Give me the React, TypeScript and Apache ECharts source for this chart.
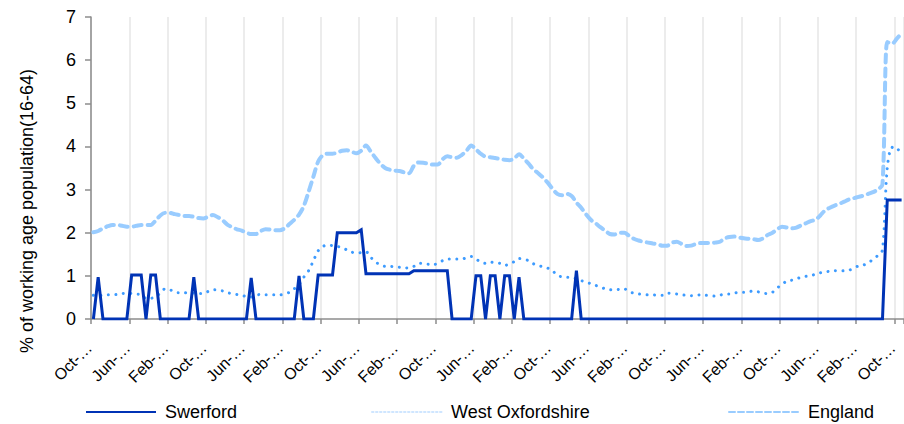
import React, { useEffect, useRef } from 'react';
import * as echarts from 'echarts';

const FONT = '"Liberation Sans", Arial, sans-serif';

// Month names used for the (truncated) category labels; series starts in October
const MONTHS = ['Jan', 'Feb', 'Mar', 'Apr', 'May', 'Jun', 'Jul', 'Aug', 'Sep', 'Oct', 'Nov', 'Dec'];
const START_MONTH_INDEX = 9;
const N_MONTHS = 170;
const categories = Array.from({ length: N_MONTHS }, (_, i) => MONTHS[(START_MONTH_INDEX + i) % 12] + '-…');

const seriesNames = ['Swerford', 'West Oxfordshire', 'England'];

const swerford = [
  0, 0.97, 0, 0, 0, 0, 0, 0, 1.02, 1.02,
  1.02, 0, 1.02, 1.02, 0, 0, 0, 0, 0, 0,
  0, 0.97, 0, 0, 0, 0, 0, 0, 0, 0,
  0, 0, 0, 0.95, 0, 0, 0, 0, 0, 0,
  0, 0, 0, 1.0, 0, 0, 0, 1.02, 1.02, 1.02,
  1.02, 2.0, 2.0, 2.0, 2.0, 2.0, 2.07, 1.05, 1.05, 1.05,
  1.05, 1.05, 1.05, 1.05, 1.05, 1.05, 1.05, 1.12, 1.12, 1.12,
  1.12, 1.12, 1.12, 1.12, 1.12, 0, 0, 0, 0, 0,
  1.0, 1.0, 0, 1.0, 1.0, 0, 1.0, 1.0, 0, 0.97,
  0, 0, 0, 0, 0, 0, 0, 0, 0, 0,
  0, 1.12, 0, 0, 0, 0, 0, 0, 0, 0,
  0, 0, 0, 0, 0, 0, 0, 0, 0, 0,
  0, 0, 0, 0, 0, 0, 0, 0, 0, 0,
  0, 0, 0, 0, 0, 0, 0, 0, 0, 0,
  0, 0, 0, 0, 0, 0, 0, 0, 0, 0,
  0, 0, 0, 0, 0, 0, 0, 0, 0, 0,
  0, 0, 0, 0, 0, 0, 2.76, 2.76, 2.76, 2.76,
];

const westOxfordshire = [
  0.55, 0.54, 0.55, 0.56, 0.56, 0.57, 0.59, 0.6, 0.59, 0.58,
  0.56, 0.48, 0.48, 0.52, 0.6, 0.7, 0.68, 0.62, 0.61, 0.61,
  0.6, 0.6, 0.59, 0.59, 0.64, 0.68, 0.67, 0.65, 0.61, 0.59,
  0.57, 0.55, 0.52, 0.51, 0.55, 0.57, 0.56, 0.56, 0.56, 0.56,
  0.58, 0.62, 0.7, 0.8, 0.97, 1.12, 1.35, 1.58, 1.68, 1.72,
  1.7, 1.68, 1.66, 1.6, 1.55, 1.53, 1.54, 1.56, 1.43, 1.32,
  1.26, 1.22, 1.22, 1.21, 1.2, 1.18, 1.19, 1.22, 1.29, 1.29,
  1.27, 1.25, 1.3, 1.35, 1.39, 1.39, 1.39, 1.39, 1.42, 1.45,
  1.39, 1.32, 1.29, 1.32, 1.3, 1.29, 1.24, 1.28, 1.33, 1.4,
  1.39, 1.35, 1.28, 1.24, 1.21, 1.18, 1.12, 1.01, 0.98, 0.97,
  0.97, 0.93, 0.89, 0.85, 0.82, 0.78, 0.74, 0.7, 0.68, 0.67,
  0.69, 0.7, 0.63, 0.6, 0.58, 0.57, 0.56, 0.56, 0.55, 0.55,
  0.6, 0.59, 0.58, 0.56, 0.55, 0.54, 0.55, 0.56, 0.55, 0.54,
  0.53, 0.55, 0.58, 0.58, 0.6, 0.62, 0.62, 0.63, 0.65, 0.63,
  0.6, 0.59, 0.62, 0.72, 0.8, 0.88, 0.9, 0.93, 0.97, 0.99,
  1.0, 1.04, 1.07, 1.09, 1.11, 1.12, 1.11, 1.12, 1.13, 1.18,
  1.23, 1.25, 1.3, 1.38, 1.47, 1.6, 3.5, 3.98, 3.9, 4.03,
];

const england = [
  2.01, 2.04, 2.1, 2.15, 2.18, 2.18, 2.16, 2.14, 2.14, 2.16,
  2.18, 2.18, 2.18, 2.28, 2.4, 2.46, 2.46, 2.43, 2.41, 2.39,
  2.39, 2.37, 2.34, 2.33, 2.37, 2.41, 2.36, 2.29, 2.19, 2.13,
  2.08, 2.05, 2.0, 1.97, 1.97, 2.04, 2.08, 2.07, 2.06, 2.06,
  2.1, 2.2, 2.3, 2.42, 2.62, 2.95, 3.3, 3.65, 3.8, 3.83,
  3.83, 3.86, 3.9, 3.91, 3.88, 3.84, 3.9, 4.02, 3.88, 3.73,
  3.6, 3.5, 3.46, 3.44, 3.43, 3.4, 3.38, 3.55, 3.63, 3.62,
  3.6, 3.58, 3.58, 3.7, 3.77, 3.75, 3.74, 3.8, 3.9, 4.02,
  3.93, 3.83, 3.76, 3.75, 3.73, 3.71, 3.69, 3.68, 3.72, 3.82,
  3.72, 3.6, 3.47, 3.38, 3.28, 3.16, 3.02, 2.9, 2.87, 2.9,
  2.85, 2.7, 2.58, 2.43, 2.3, 2.22, 2.13, 2.05, 1.97, 1.96,
  2.0, 2.0, 1.93, 1.86, 1.82, 1.79, 1.77, 1.75, 1.73, 1.7,
  1.7, 1.77, 1.79, 1.74, 1.69, 1.7, 1.74, 1.76, 1.76, 1.76,
  1.77, 1.79, 1.87, 1.9, 1.91, 1.89, 1.87, 1.86, 1.85, 1.83,
  1.87, 1.95, 2.0, 2.08, 2.14, 2.12, 2.1, 2.12, 2.17, 2.22,
  2.27, 2.3, 2.4, 2.52, 2.58, 2.63, 2.67, 2.72, 2.77, 2.8,
  2.83, 2.86, 2.9, 2.94, 3.0, 3.12, 6.42, 6.38, 6.5, 6.62,
];

const yAxisTitle = '% of working age population(16-64)';

const COLORS = { swerford: '#0033B5', wo: '#3D9BFF', england: '#99CCFF', axis: '#8C8C8C', grid: '#E6E6E6' };

export default function App() {
  const ref = useRef<HTMLDivElement>(null);

  useEffect(() => {
    if (!ref.current) return;
    const chart = echarts.init(ref.current, undefined, { renderer: 'svg' });
    const legendText = { fontSize: 18, color: '#000', fontFamily: FONT, padding: [0, 0, 0, 4] };
    const hidden = { opacity: 0, borderWidth: 0 };
    const option: any = {
      animation: false,
      textStyle: { fontFamily: FONT },
      grid: { left: 91, top: 17, width: 814, height: 302, containLabel: false },
      xAxis: {
        type: 'category',
        data: categories,
        boundaryGap: true,
        axisLine: { show: true, lineStyle: { color: COLORS.axis, width: 1.5 } },
        axisTick: { show: true, interval: 7, length: 5, lineStyle: { color: COLORS.axis, width: 1.5 } },
        axisLabel: {
          interval: 7, rotate: 45, margin: 22, padding: [0, 6, 0, 0],
          fontSize: 16, color: '#000', fontFamily: FONT,
        },
        splitLine: { show: true, interval: 7, lineStyle: { color: COLORS.grid, width: 1.5 } },
      },
      yAxis: {
        type: 'value',
        min: 0,
        max: 7,
        interval: 1,
        axisLine: { show: true, lineStyle: { color: COLORS.axis, width: 1.5 } },
        axisTick: { show: true, length: 6, lineStyle: { color: COLORS.axis, width: 1.5 } },
        axisLabel: { fontSize: 18, color: '#000', margin: 15, fontFamily: FONT },
        splitLine: { show: false },
      },
      legend: [
        {
          left: 85, top: 403, padding: 0, itemWidth: 70, itemHeight: 18,
          data: [{ name: seriesNames[0], itemStyle: hidden, lineStyle: { width: 2 } }],
          textStyle: legendText,
        },
        {
          left: 371, top: 403, padding: 0, itemWidth: 70, itemHeight: 18,
          data: [{ name: seriesNames[1], itemStyle: hidden, lineStyle: { width: 2, color: '#CFE6FF', type: [1.5, 2.5] } }],
          textStyle: legendText,
        },
        {
          left: 728, top: 403, padding: 0, itemWidth: 70, itemHeight: 18,
          data: [{ name: seriesNames[2], itemStyle: hidden, lineStyle: { width: 2, type: [6, 3] } }],
          textStyle: legendText,
        },
      ],
      graphic: [
        {
          type: 'text',
          x: 27,
          y: 211,
          rotation: Math.PI / 2,
          style: {
            text: yAxisTitle,
            fontSize: 18,
            fontFamily: FONT,
            fill: '#000',
            align: 'center',
            verticalAlign: 'middle',
          },
        },
      ],
      series: [
        {
          name: seriesNames[0],
          type: 'line',
          data: swerford,
          symbol: 'none',
          z: 5,
          lineStyle: { color: COLORS.swerford, width: 3, join: 'miter' },
          itemStyle: { color: COLORS.swerford },
        },
        {
          name: seriesNames[1],
          type: 'line',
          data: westOxfordshire,
          symbol: 'none',
          smooth: 0.3,
          z: 4,
          lineStyle: { color: COLORS.wo, width: 3, type: [0.01, 7.5], cap: 'round' },
          itemStyle: { color: COLORS.wo },
        },
        {
          name: seriesNames[2],
          type: 'line',
          data: england,
          symbol: 'none',
          smooth: 0.3,
          z: 3,
          lineStyle: { color: COLORS.england, width: 4, type: [8, 6], cap: 'round' },
          itemStyle: { color: COLORS.england },
        },
      ],
    };
    chart.setOption(option);
    return () => chart.dispose();
  }, []);

  return (
    <div
      ref={ref}
      style={{ position: 'fixed', left: 0, top: 0, width: 904, height: 424, background: '#fff' }}
    />
  );
}
